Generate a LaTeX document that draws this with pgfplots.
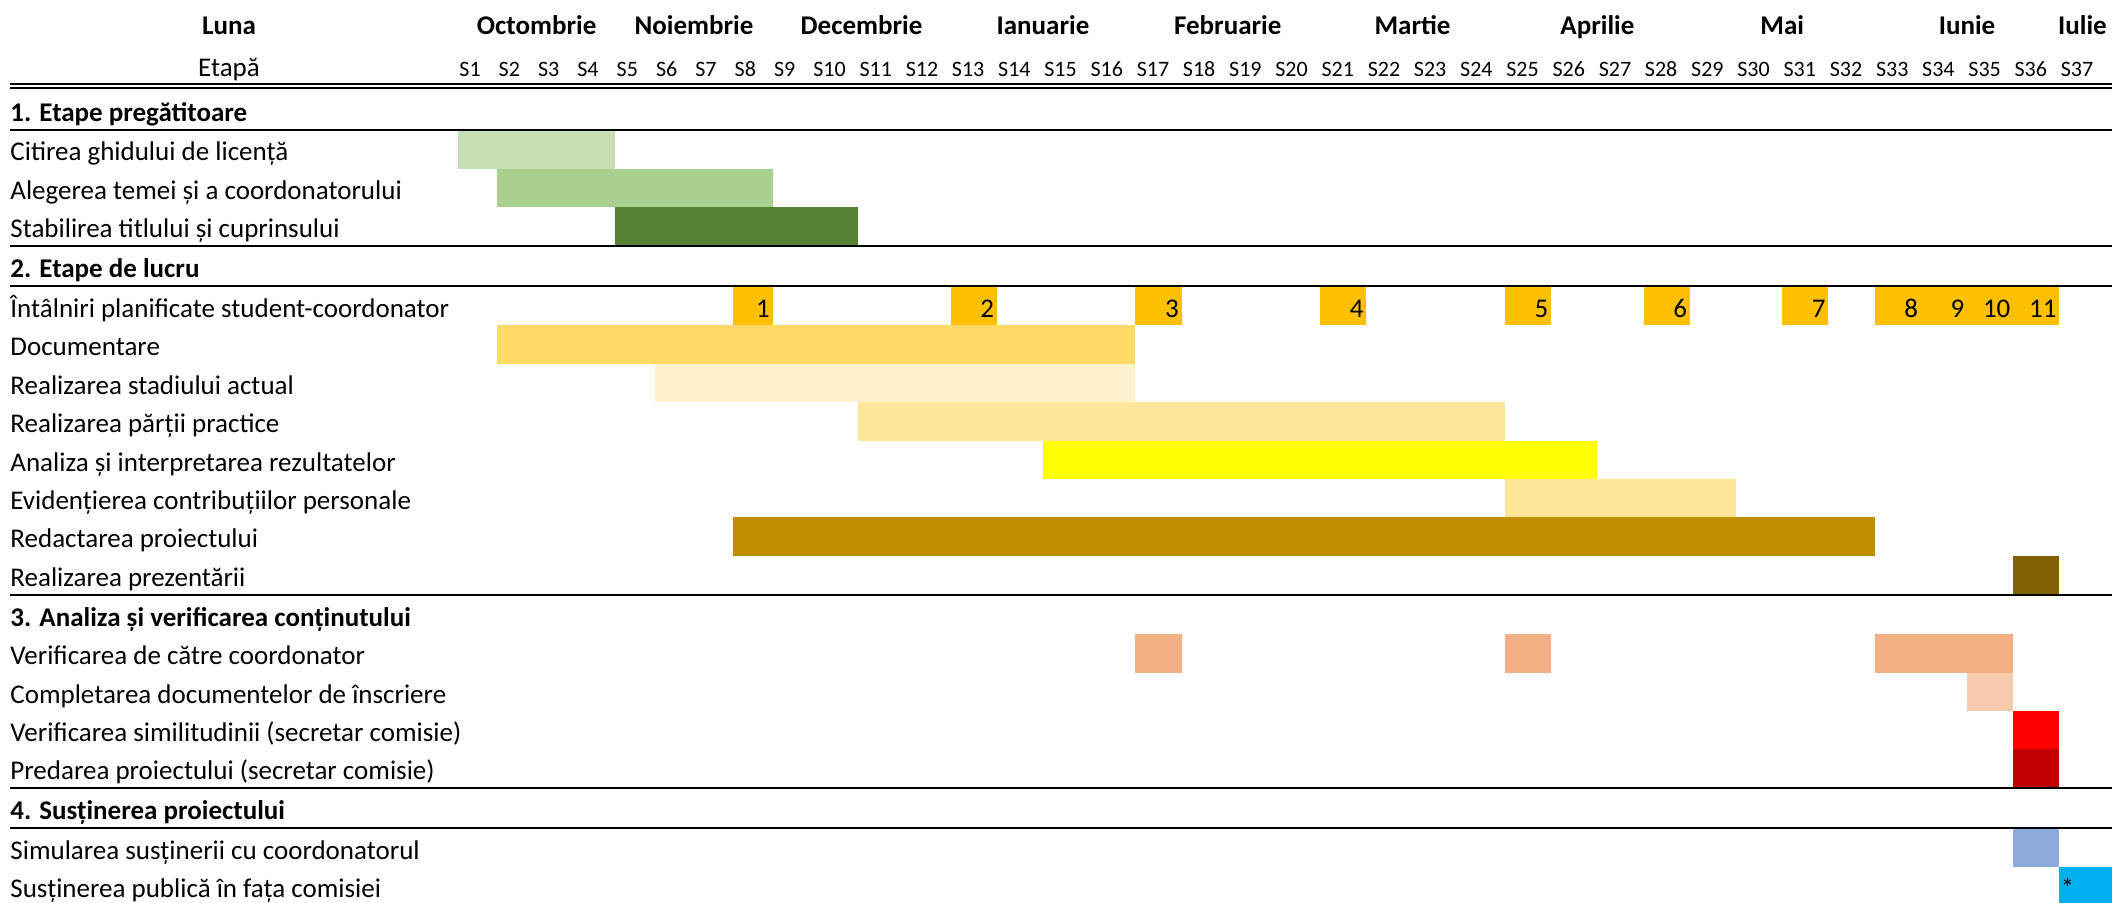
\documentclass[border=0pt]{standalone}
\usepackage{pgfplots}
\pgfplotsset{compat=1.18}
\usepackage{fontspec}
\setmainfont{Carlito}
\definecolor{gA}{HTML}{C6E0B4}
\definecolor{gB}{HTML}{A9D08E}
\definecolor{gC}{HTML}{548235}
\definecolor{mt}{HTML}{FFC000}
\definecolor{yA}{HTML}{FFD966}
\definecolor{yB}{HTML}{FFF2CC}
\definecolor{yC}{HTML}{FFE699}
\definecolor{yD}{HTML}{FFFF00}
\definecolor{bA}{HTML}{BF8F00}
\definecolor{bB}{HTML}{806000}
\definecolor{oA}{HTML}{F4B084}
\definecolor{oB}{HTML}{F8CBAD}
\definecolor{rA}{HTML}{FF0000}
\definecolor{rB}{HTML}{C00000}
\definecolor{lA}{HTML}{8EA9DB}
\definecolor{lB}{HTML}{00B0F0}
\newcommand{\fs}{\fontsize{13.5}{16}\selectfont}
\newcommand{\fss}{\fontsize{11}{13}\selectfont}
% bar: top, bottom, start week, end week, colour
\newcommand{\gbar}[5]{\addplot[fill=#5,draw=none] coordinates {(#3,#1) (#4,#1) (#4,#2) (#3,#2)};}
\newcommand{\rowlab}[2]{\node[anchor=base west,font=\fs,inner sep=0pt] at (axis cs:-11.39,#1) {#2};}
\newcommand{\seclab}[2]{\node[anchor=base west,font=\fs\bfseries,inner sep=0pt] at (axis cs:-11.39,#1) {#2};}
\newcommand{\hrl}[1]{\draw[line width=1pt] (axis cs:-11.39,#1) -- (axis cs:37.2,#1);}
\newcommand{\mnum}[2]{\node[anchor=base east,font=\fs,inner sep=0pt,xshift=-1.2pt] at (axis cs:#1,317.3) {#2};}
\newcommand{\slab}[2]{\node[anchor=base west,font=\fss,inner sep=0pt,xshift=0.5pt] at (axis cs:#1,76.5) {#2};}
\newcommand{\mlab}[2]{\node[anchor=base,font=\fs\bfseries,inner sep=0pt] at (axis cs:#1,35) {#2};}
\begin{document}
\begin{tikzpicture}
\begin{axis}[at={(0,0)}, anchor=south west, scale only axis,
  width=1056pt, height=451.5pt,
  xmin=-11.645, xmax=37.139, ymin=0, ymax=903, y dir=reverse,
  hide axis, xtick=\empty, ytick=\empty,
  x coord trafo/.code={\pgfmathparse{((#1)<9) ? ((#1)*39.33) : (353.97+((#1)-9)*46.2)}},
  x coord inv trafo/.code={\pgfmathparse{((#1)<353.97) ? ((#1)/39.33) : (9+((#1)-353.97)/46.2)}},
]
% ---- bars (weeks: S1 = [0,1], ..., S37 = [36,37])
\gbar{130.7}{169.0}{0}{4}{gA}
\gbar{169.0}{207.3}{1}{8}{gB}
\gbar{207.3}{245.7}{4}{10}{gC}
\gbar{286.7}{325.3}{7}{8}{mt}
\gbar{286.7}{325.3}{12}{13}{mt}
\gbar{286.7}{325.3}{16}{17}{mt}
\gbar{286.7}{325.3}{20}{21}{mt}
\gbar{286.7}{325.3}{24}{25}{mt}
\gbar{286.7}{325.3}{27}{28}{mt}
\gbar{286.7}{325.3}{30}{31}{mt}
\gbar{286.7}{325.3}{32}{36}{mt}
\gbar{325.3}{363.7}{1}{16}{yA}
\gbar{363.7}{402.0}{5}{16}{yB}
\gbar{402.0}{440.5}{10}{24}{yC}
\gbar{440.5}{479.0}{14}{26}{yD}
\gbar{479.0}{517.3}{24}{29}{yC}
\gbar{517.3}{555.8}{7}{32}{bA}
\gbar{555.8}{594.7}{35}{36}{bB}
\gbar{634.0}{672.5}{16}{17}{oA}
\gbar{634.0}{672.5}{24}{25}{oA}
\gbar{634.0}{672.5}{32}{35}{oA}
\gbar{672.5}{711.0}{34}{35}{oB}
\gbar{711.0}{749.3}{35}{36}{rA}
\gbar{749.3}{787.8}{35}{36}{rB}
\gbar{828.5}{867.0}{35}{36}{lA}
\gbar{867.0}{905.5}{36}{37.3}{lB}
% ---- rules
\draw[line width=0.85pt] (axis cs:-11.39,84.2) -- (axis cs:37.2,84.2);
\draw[line width=0.85pt] (axis cs:-11.39,87.8) -- (axis cs:37.2,87.8);
\hrl{129.7}
\hrl{245.7}
\hrl{285.7}
\hrl{594.7}
\hrl{787.8}
\hrl{827.5}
% ---- header
\node[anchor=base,font=\fs\bfseries,inner sep=0pt] at (axis cs:-5.823,35) {Luna};
\node[anchor=base,font=\fs,inner sep=0pt] at (axis cs:-5.823,76.5) {Etapă};
\mlab{2}{Octombrie}
\mlab{6}{Noiembrie}
\mlab{10.074}{Decembrie}
\mlab{14}{Ianuarie}
\mlab{18}{Februarie}
\mlab{22}{Martie}
\mlab{26}{Aprilie}
\mlab{30}{Mai}
\mlab{34}{Iunie}
\mlab{36.5}{Iulie}
\slab{0}{S1}\slab{1}{S2}\slab{2}{S3}\slab{3}{S4}\slab{4}{S5}\slab{5}{S6}
\slab{6}{S7}\slab{7}{S8}\slab{8}{S9}\slab{9}{S10}\slab{10}{S11}\slab{11}{S12}
\slab{12}{S13}\slab{13}{S14}\slab{14}{S15}\slab{15}{S16}\slab{16}{S17}\slab{17}{S18}
\slab{18}{S19}\slab{19}{S20}\slab{20}{S21}\slab{21}{S22}\slab{22}{S23}\slab{23}{S24}
\slab{24}{S25}\slab{25}{S26}\slab{26}{S27}\slab{27}{S28}\slab{28}{S29}\slab{29}{S30}
\slab{30}{S31}\slab{31}{S32}\slab{32}{S33}\slab{33}{S34}\slab{34}{S35}\slab{35}{S36}
\slab{36}{S37}
% ---- row labels
\seclab{121.7}{1. Etape pregătitoare}
\rowlab{161.0}{Citirea ghidului de licență}
\rowlab{199.3}{Alegerea temei și a coordonatorului}
\rowlab{237.7}{Stabilirea titlului și cuprinsului}
\seclab{277.7}{2. Etape de lucru}
\rowlab{317.3}{Întâlniri planificate student-coordonator}
\rowlab{355.7}{Documentare}
\rowlab{394.0}{Realizarea stadiului actual}
\rowlab{432.5}{Realizarea părții practice}
\rowlab{471.0}{Analiza și interpretarea rezultatelor}
\rowlab{509.3}{Evidențierea contribuțiilor personale}
\rowlab{547.8}{Redactarea proiectului}
\rowlab{586.7}{Realizarea prezentării}
\seclab{626.0}{3. Analiza și verificarea conținutului}
\rowlab{664.5}{Verificarea de către coordonator}
\rowlab{703.0}{Completarea documentelor de înscriere}
\rowlab{741.3}{Verificarea similitudinii (secretar comisie)}
\rowlab{779.8}{Predarea proiectului (secretar comisie)}
\seclab{819.5}{4. Susținerea proiectului}
\rowlab{859.0}{Simularea susținerii cu coordonatorul}
\rowlab{897.5}{Susținerea publică în fața comisiei}
% ---- meeting numbers
\mnum{8}{1}\mnum{13}{2}\mnum{17}{3}\mnum{21}{4}\mnum{25}{5}\mnum{28}{6}
\mnum{31}{7}\mnum{33}{8}\mnum{34}{9}\mnum{35}{10}\mnum{36}{11}
\node[anchor=base west,font=\fs,inner sep=0pt,xshift=0.5pt] at (axis cs:36,897.5) {*};
\end{axis}
\pgfresetboundingbox
\useasboundingbox (0,0) rectangle (1056pt,451.5pt);
\end{tikzpicture}
\end{document}
